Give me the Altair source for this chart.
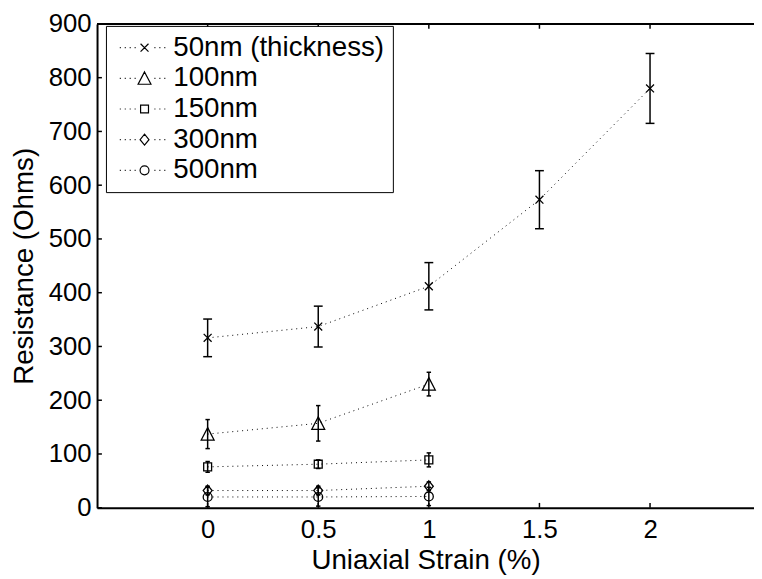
import altair as alt
import pandas as pd

# ---- data ----
series_names = ["50nm (thickness)", "100nm", "150nm", "300nm", "500nm"]
strain = {
    "50nm (thickness)": [0, 0.5, 1, 1.5, 2],
    "100nm": [0, 0.5, 1],
    "150nm": [0, 0.5, 1],
    "300nm": [0, 0.5, 1],
    "500nm": [0, 0.5, 1],
}
resistance = {
    "50nm (thickness)": [316, 337, 412, 573, 780],
    "100nm": [137, 157, 230],
    "150nm": [76, 81, 89],
    "300nm": [32, 32, 40],
    "500nm": [20, 20, 21],
}
err = {
    "50nm (thickness)": [35, 38, 44, 54, 65],
    "100nm": [27, 33, 22],
    "150nm": [10, 8, 13],
    "300nm": [8, 8, 8],
    "500nm": [18, 17, 17],
}
x_ticks = [0, 0.5, 1, 1.5, 2]
y_ticks = [0, 100, 200, 300, 400, 500, 600, 700, 800, 900]
X_DOMAIN = [-0.5, 2.47]   # right part of the axes box is cropped in the reference
Y_DOMAIN = [0, 900]

FONT = "Liberation Sans"
FS_TICK = 26
FS_TITLE = 28

rows = []
for s in series_names:
    xs = strain[s]
    tee = 0.01 * (max(xs) - min(xs))  # MATLAB-style errorbar tee half width
    for x, r, e in zip(xs, resistance[s], err[s]):
        rows.append({"series": s, "x": x, "r": r, "lo": r - e, "hi": r + e,
                     "xl": x - tee, "xr": x + tee})
df = pd.DataFrame(rows)

# marker shapes (custom paths in -1..1 box, size 400 -> 1 unit = 10px)
marker_paths = [
    "M-0.4,-0.4L0.4,0.4M-0.4,0.4L0.4,-0.4",
    "M0,-0.65L0.65,0.6L-0.65,0.6Z",
    "M-0.4,-0.4L0.4,-0.4L0.4,0.4L-0.4,0.4Z",
    "M0,-0.55L0.45,0L0,0.55L-0.45,0Z",
    "M0.45,0A0.45,0.45,0,1,1,-0.45,0A0.45,0.45,0,1,1,0.45,0Z",
]
dots = "".join(f"M{d},0h0.1" for d in [-2.5, -2.0, -1.5, -1.0, 1.0, 1.5, 2.0])
legend_paths = [dots + p for p in marker_paths]

x_enc = alt.X("x:Q", scale=alt.Scale(domain=X_DOMAIN, nice=False, zero=False),
              axis=alt.Axis(values=x_ticks, format="~g", title="Uniaxial Strain (%)",
                            labelPadding=9, titlePadding=4, labelFontSize=FS_TICK))
y_enc = alt.Y("r:Q", scale=alt.Scale(domain=Y_DOMAIN, nice=False),
              axis=alt.Axis(values=y_ticks, title="Resistance (Ohms)",
                            labelPadding=6, titlePadding=10, labelFontSize=FS_TICK))

base = alt.Chart(df)

lines = base.mark_line(color="black", strokeWidth=1, strokeDash=[1, 4]).encode(
    x=x_enc, y=y_enc, detail="series:N", order="x:Q")

bars = base.mark_rule(color="black", strokeWidth=1.5).encode(
    x="x:Q", y="lo:Q", y2="hi:Q")
cap_lo = base.mark_rule(color="black", strokeWidth=1.5).encode(
    x="xl:Q", x2="xr:Q", y="lo:Q")
cap_hi = base.mark_rule(color="black", strokeWidth=1.5).encode(
    x="xl:Q", x2="xr:Q", y="hi:Q")

markers = base.mark_point(filled=False, color="black", strokeWidth=1.3, size=400, opacity=1).encode(
    x="x:Q", y="r:Q",
    shape=alt.Shape("series:N", scale=alt.Scale(domain=series_names, range=marker_paths), legend=None))

legend_layer = base.transform_filter("false").mark_point(
    filled=False, color="black", strokeWidth=1.2, size=400, opacity=1).encode(
    x="x:Q", y="r:Q",
    shape=alt.Shape("series:N", scale=alt.Scale(domain=series_names, range=legend_paths),
                    legend=alt.Legend(title=None, orient="none", legendX=9, legendY=2,
                                      fillColor="white", strokeColor="black", padding=8,
                                      symbolSize=400, symbolStrokeWidth=1.2,
                                      symbolStrokeColor="black", symbolOffset=17,
                                      labelOffset=15, rowPadding=3,
                                      labelFont=FONT, labelFontSize=FS_TITLE, labelColor="black",
                                      labelLimit=400)))

# inward tick marks (MATLAB style) and top frame line
xt = pd.DataFrame({"t": x_ticks})
yt = pd.DataFrame({"t": y_ticks})
ylen = 9.0
xlen = 0.022
xtick_bottom = alt.Chart(xt).transform_calculate(a="0", b=f"{ylen}").mark_rule(
    color="black", strokeWidth=1.5).encode(x="t:Q", y="a:Q", y2="b:Q")
xtick_top = alt.Chart(xt).transform_calculate(a=f"{Y_DOMAIN[1] - ylen}", b=f"{Y_DOMAIN[1]}").mark_rule(
    color="black", strokeWidth=1.5).encode(x="t:Q", y="a:Q", y2="b:Q")
ytick_left = alt.Chart(yt).transform_calculate(a=f"{X_DOMAIN[0]}", b=f"{X_DOMAIN[0] + xlen}").mark_rule(
    color="black", strokeWidth=1.5).encode(y="t:Q", x="a:Q", x2="b:Q")
top_line = alt.Chart(xt).mark_rule(color="black", strokeWidth=2).encode(y=alt.datum(Y_DOMAIN[1]))

chart = alt.layer(
    lines, bars, cap_lo, cap_hi, markers, xtick_bottom, xtick_top, ytick_left, top_line, legend_layer
).resolve_scale(shape="independent").properties(
    width=664, height=489,
    autosize=alt.AutoSizeParams(type="none"),
    padding={"left": 90, "top": 13, "right": 0, "bottom": 75},
).configure_view(stroke=None).configure_axis(
    domain=True, domainColor="black", domainWidth=2,
    ticks=False, grid=False,
    labelFont=FONT, labelColor="black",
    titleFont=FONT, titleFontSize=FS_TITLE, titleFontWeight="normal", titleColor="black",
)

chart.save("out.html", embed_options={"renderer": "svg", "actions": False})
